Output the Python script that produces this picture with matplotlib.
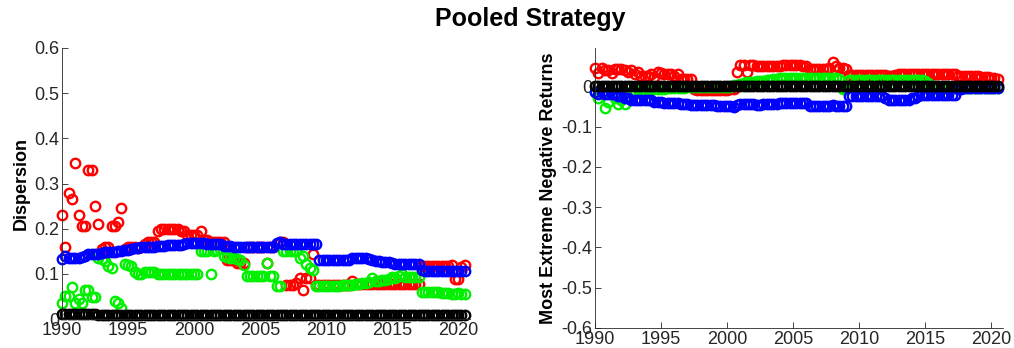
import numpy as np
import matplotlib
matplotlib.use("Agg")
import matplotlib.pyplot as plt
from matplotlib import font_manager

plt.rcParams['font.family'] = ['Liberation Sans', 'DejaVu Sans']

# Quarterly observations, 1990Q1 .. 2020Q3 (one row per year)
start_year = 1990
step = 0.25

disp_red = [
    0.230, 0.160, 0.280, 0.265,
    0.345, 0.230, 0.205, 0.205,
    0.330, 0.330, 0.250, 0.210,
    0.155, 0.160, 0.160, 0.205,
    0.205, 0.215, 0.245, 0.155,
    0.160, 0.160, 0.160, 0.158,
    0.160, 0.165, 0.170, 0.170,
    0.170, 0.195, 0.200, 0.200,
    0.200, 0.200, 0.200, 0.200,
    0.195, 0.195, 0.185, 0.185,
    0.185, 0.185, 0.195, 0.175,
    0.175, 0.170, 0.170, 0.170,
    0.170, 0.170, 0.130, 0.130,
    0.130, 0.125, 0.125, 0.125,
    0.160, 0.160, 0.160, 0.160,
    0.160, 0.160, 0.125, 0.160,
    0.160, 0.165, 0.170, 0.170,
    0.075, 0.075, 0.075, 0.080,
    0.090, 0.065, 0.090, 0.090,
    0.145, 0.075, 0.075, 0.075,
    0.075, 0.075, 0.075, 0.075,
    0.075, 0.075, 0.075, 0.075,
    0.085, 0.078, 0.078, 0.078,
    0.078, 0.078, 0.078, 0.078,
    0.078, 0.078, 0.078, 0.078,
    0.078, 0.078, 0.078, 0.078,
    0.078, 0.078, 0.078, 0.078,
    0.078, 0.117, 0.117, 0.117,
    0.117, 0.117, 0.117, 0.117,
    0.117, 0.117, 0.120, 0.088,
    0.088, 0.115, 0.120,
]

disp_blue = [
    0.133, 0.140, 0.136, 0.136,
    0.136, 0.136, 0.138, 0.140,
    0.144, 0.144, 0.144, 0.144,
    0.146, 0.148, 0.148, 0.148,
    0.148, 0.150, 0.150, 0.152,
    0.152, 0.155, 0.158, 0.158,
    0.160, 0.160, 0.160, 0.160,
    0.160, 0.162, 0.162, 0.162,
    0.163, 0.163, 0.164, 0.164,
    0.164, 0.166, 0.168, 0.168,
    0.168, 0.168, 0.168, 0.168,
    0.165, 0.165, 0.165, 0.165,
    0.165, 0.162, 0.162, 0.162,
    0.160, 0.160, 0.160, 0.160,
    0.160, 0.160, 0.160, 0.160,
    0.160, 0.160, 0.160, 0.160,
    0.160, 0.168, 0.170, 0.166,
    0.165, 0.165, 0.165, 0.165,
    0.165, 0.165, 0.165, 0.165,
    0.165, 0.165, 0.130, 0.130,
    0.130, 0.130, 0.130, 0.130,
    0.130, 0.130, 0.130, 0.130,
    0.135, 0.136, 0.136, 0.136,
    0.136, 0.132, 0.130, 0.128,
    0.128, 0.127, 0.126, 0.126,
    0.124, 0.122, 0.121, 0.121,
    0.121, 0.121, 0.121, 0.121,
    0.121, 0.108, 0.107, 0.107,
    0.107, 0.107, 0.107, 0.107,
    0.107, 0.107, 0.107, 0.107,
    0.107, 0.107, 0.107,
]

disp_green = [
    0.036, 0.050, 0.052, 0.070,
    0.036, 0.045, 0.036, 0.065,
    0.065, 0.048, 0.048, 0.135,
    0.132, 0.128, 0.118, 0.112,
    0.040, 0.035, 0.025, 0.122,
    0.120, 0.118, 0.105, 0.100,
    0.100, 0.105, 0.105, 0.105,
    0.104, 0.100, 0.100, 0.100,
    0.100, 0.100, 0.100, 0.100,
    0.100, 0.100, 0.100, 0.100,
    0.100, 0.100, 0.150, 0.150,
    0.150, 0.100, 0.150, 0.152,
    0.155, 0.140, 0.138, 0.135,
    0.135, 0.132, 0.130, 0.120,
    0.095, 0.095, 0.095, 0.095,
    0.095, 0.095, 0.125, 0.095,
    0.095, 0.073, 0.073, 0.150,
    0.150, 0.150, 0.150, 0.150,
    0.135, 0.140, 0.122, 0.114,
    0.108, 0.073, 0.073, 0.073,
    0.073, 0.073, 0.073, 0.073,
    0.073, 0.075, 0.075, 0.075,
    0.076, 0.078, 0.078, 0.080,
    0.080, 0.082, 0.090, 0.084,
    0.084, 0.086, 0.086, 0.088,
    0.092, 0.090, 0.095, 0.100,
    0.092, 0.092, 0.092, 0.092,
    0.092, 0.060, 0.060, 0.060,
    0.060, 0.060, 0.059, 0.058,
    0.058, 0.057, 0.056, 0.055,
    0.058, 0.055, 0.055,
]

disp_black = [0.012] * 11 + [0.009] * 112

ret_red = [
    0.045, 0.033, 0.045, 0.040,
    0.040, 0.033, 0.042, 0.042,
    0.042, 0.040, 0.035, 0.040,
    0.030, 0.035, 0.025, 0.025,
    0.025, 0.030, 0.022, 0.035,
    0.033, 0.030, 0.030, 0.030,
    0.025, 0.030, 0.018, 0.017,
    0.017, 0.017, -0.008, -0.010,
    -0.010, -0.010, -0.010, -0.010,
    -0.010, -0.010, -0.010, -0.010,
    -0.010, -0.008, -0.008, 0.035,
    0.052, 0.052, 0.035, 0.052,
    0.052, 0.050, 0.050, 0.050,
    0.050, 0.050, 0.050, 0.050,
    0.050, 0.052, 0.052, 0.052,
    0.052, 0.052, 0.052, 0.050,
    0.050, 0.042, 0.042, 0.042,
    0.042, 0.042, 0.042, 0.045,
    0.060, 0.050, 0.045, 0.045,
    0.042, 0.028, 0.028, 0.028,
    0.028, 0.028, 0.028, 0.028,
    0.028, 0.028, 0.028, 0.028,
    0.028, 0.026, 0.026, 0.028,
    0.030, 0.030, 0.030, 0.030,
    0.030, 0.030, 0.030, 0.030,
    0.030, 0.030, 0.030, 0.030,
    0.030, 0.030, 0.030, 0.030,
    0.030, 0.030, 0.025, 0.025,
    0.025, 0.025, 0.025, 0.025,
    0.025, 0.024, 0.024, 0.022,
    0.020, 0.020, 0.018,
]

ret_green = [
    -0.015, -0.030, -0.020, -0.055,
    -0.040, -0.020, -0.030, -0.045,
    -0.035, -0.045, -0.030, -0.015,
    -0.012, -0.010, -0.008, -0.010,
    -0.008, -0.008, -0.008, -0.008,
    -0.006, -0.006, -0.005, -0.005,
    -0.004, -0.004, -0.004, -0.004,
    -0.003, -0.003, -0.003, -0.003,
    -0.003, -0.003, -0.003, -0.003,
    -0.003, -0.003, -0.003, -0.003,
    -0.003, -0.003, 0.002, 0.004,
    0.006, 0.008, 0.010, 0.010,
    0.010, 0.012, 0.013, 0.014,
    0.015, 0.016, 0.017, 0.018,
    0.020, 0.020, 0.020, 0.020,
    0.020, 0.020, 0.020, 0.020,
    0.020, 0.020, 0.020, 0.020,
    0.020, 0.020, 0.020, 0.020,
    0.020, 0.020, 0.018, -0.008,
    -0.008, 0.016, 0.016, 0.016,
    0.016, 0.016, 0.016, 0.016,
    0.016, 0.016, 0.016, 0.016,
    0.016, 0.016, 0.016, 0.016,
    0.016, 0.016, 0.016, 0.016,
    0.016, 0.016, 0.016, 0.016,
    0.012, 0.008, 0.000, -0.006,
    -0.008, -0.006, -0.004, -0.004,
    -0.004, -0.004, -0.004, -0.004,
    -0.004, -0.004, -0.004, -0.004,
    -0.004, -0.004, -0.004, -0.004,
    -0.004, -0.004, -0.004,
]

ret_blue = [
    -0.013, -0.018, -0.015, -0.020,
    -0.020, -0.018, -0.020, -0.025,
    -0.025, -0.030, -0.030, -0.033,
    -0.033, -0.033, -0.033, -0.033,
    -0.035, -0.035, -0.038, -0.040,
    -0.040, -0.042, -0.042, -0.042,
    -0.042, -0.042, -0.044, -0.044,
    -0.044, -0.046, -0.046, -0.046,
    -0.046, -0.046, -0.046, -0.046,
    -0.046, -0.048, -0.048, -0.048,
    -0.050, -0.050, -0.052, -0.046,
    -0.044, -0.044, -0.044, -0.044,
    -0.044, -0.046, -0.046, -0.044,
    -0.044, -0.044, -0.044, -0.044,
    -0.042, -0.042, -0.042, -0.042,
    -0.042, -0.042, -0.042, -0.042,
    -0.042, -0.048, -0.050, -0.050,
    -0.050, -0.048, -0.048, -0.048,
    -0.046, -0.048, -0.050, -0.050,
    -0.050, -0.025, -0.025, -0.025,
    -0.025, -0.025, -0.025, -0.025,
    -0.025, -0.025, -0.025, -0.025,
    -0.030, -0.033, -0.033, -0.033,
    -0.033, -0.033, -0.033, -0.033,
    -0.030, -0.030, -0.024, -0.022,
    -0.021, -0.021, -0.021, -0.021,
    -0.021, -0.021, -0.021, -0.021,
    -0.021, -0.021, -0.008, -0.006,
    -0.005, -0.005, -0.005, -0.005,
    -0.005, -0.005, -0.005, -0.005,
    -0.004, -0.004, -0.004,
]

ret_black = [0.0] * 123

xticks = [1990, 1995, 2000, 2005, 2010, 2015, 2020]
disp_yticks = [0, 0.1, 0.2, 0.3, 0.4, 0.5, 0.6]
ret_yticks = [-0.6, -0.5, -0.4, -0.3, -0.2, -0.1, 0]

years = start_year + step * np.arange(len(disp_red))

RED = '#ff0000'
GREEN = '#00f000'
BLUE = '#0000ff'
BLACK = '#000000'
AXIS_GRAY = '#262626'

# a narrow sans for the heading when one is available
installed = {f.name for f in font_manager.fontManager.ttflist}
title_family = ['Liberation Sans Narrow'] if 'Liberation Sans Narrow' in installed else ['Liberation Sans']

fig = plt.figure(figsize=(10.14, 3.48), dpi=100)
W, H = 1014, 348


def px_axes(x0, x1, ytop, ybot):
    return fig.add_axes([x0 / W, (H - ybot) / H, (x1 - x0) / W, (ybot - ytop) / H])


ax1 = px_axes(62, 470, 48, 319)
ax2 = px_axes(595, 1003, 48, 328)


def draw_panel(ax, series, ylim, yticks, ylabel):
    for vals, col in series:
        ax.plot(years, vals, linestyle='none', marker='o', markersize=6.8,
                markerfacecolor='none', markeredgecolor=col, markeredgewidth=1.7,
                clip_on=False)
    ax.set_xlim(1990, 2020.9)
    ax.set_ylim(*ylim)
    ax.set_xticks(xticks)
    ax.set_yticks(yticks)
    ax.set_yticklabels(['0' if v == 0 else f'{v:g}' for v in yticks])
    for s in ('top', 'right'):
        ax.spines[s].set_visible(False)
    for s in ('left', 'bottom'):
        ax.spines[s].set_color(AXIS_GRAY)
        ax.spines[s].set_linewidth(0.6)
    ax.tick_params(direction='in', length=4, width=0.6, colors=AXIS_GRAY,
                   labelsize=13, labelcolor=AXIS_GRAY, pad=2)
    ax.set_ylabel(ylabel, fontsize=13, fontweight='bold', color=BLACK, labelpad=3)


draw_panel(ax1, [(disp_red, RED), (disp_green, GREEN), (disp_blue, BLUE), (disp_black, BLACK)],
           (0, 0.6), disp_yticks, 'Dispersion')
draw_panel(ax2, [(ret_red, RED), (ret_green, GREEN), (ret_blue, BLUE), (ret_black, BLACK)],
           (-0.6, 0.095), ret_yticks, 'Most Extreme Negative Returns')

fig.text(0.523, 0.945, 'Pooled Strategy', ha='center', va='center',
         fontsize=18, fontweight='bold', color=BLACK, family=title_family)

fig.savefig('out.png', dpi=100)
